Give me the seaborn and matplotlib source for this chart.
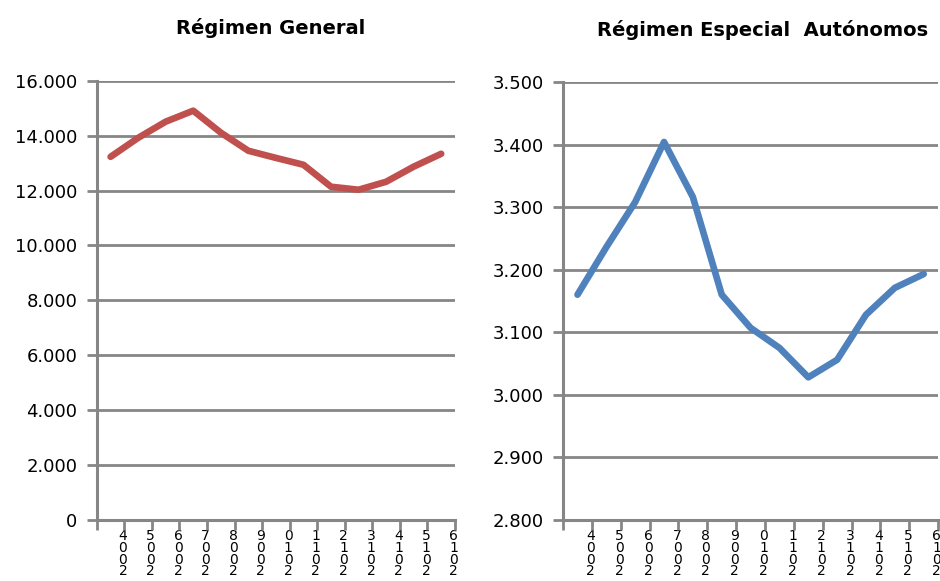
import numpy as np
import pandas as pd
import matplotlib.pyplot as plt
import seaborn as sns
from matplotlib.ticker import FuncFormatter, FixedLocator

years = list(range(2004, 2017))
general = [13230, 13920, 14510, 14910, 14110, 13450, 13190, 12940, 12140, 12030, 12320, 12870, 13340]
autonomos = [3160, 3236, 3308, 3404, 3316, 3160, 3107, 3075, 3028, 3056, 3128, 3171, 3193]
titles = ['Régimen General', 'Régimen Especial  Autónomos']

df = pd.DataFrame({'pos': np.arange(len(years)), 'year': years,
                   'general': general, 'autonomos': autonomos})

sns.set_style('white')
plt.rcParams['font.family'] = ['DejaVu Sans']
plt.rcParams['text.color'] = 'black'
plt.rcParams['xtick.labelcolor'] = 'black'
plt.rcParams['ytick.labelcolor'] = 'black'

fig = plt.figure(figsize=(9.4, 5.81), dpi=100)
ax1 = fig.add_axes([0.103, 0.105, 0.381, 0.756])
ax2 = fig.add_axes([0.599, 0.105, 0.399, 0.754])

grey = '#868686'


def thousands(v, p):
    return f'{v:,.0f}'.replace(',', '.')


def style(ax, col, color, ylim, ystep):
    sns.lineplot(data=df, x='pos', y=col, color=color, linewidth=4.8, ax=ax)
    ax.set_xlim(-0.5, len(years) - 0.5)
    ax.set_ylim(*ylim)
    ax.set_yticks(np.arange(ylim[0], ylim[1] + 1, ystep))
    ax.yaxis.set_major_formatter(FuncFormatter(thousands))
    ax.grid(axis='y', color=grey, linewidth=2)
    ax.set_axisbelow(True)
    for s in ['top', 'right']:
        ax.spines[s].set_visible(False)
    for s in ['left', 'bottom']:
        ax.spines[s].set_color(grey)
        ax.spines[s].set_linewidth(2.2)
    ax.tick_params(axis='y', left=True, length=7, width=2, color=grey,
                   labelsize=13, pad=7, labelcolor='black')
    # year labels stacked vertically, last digit on top
    ax.set_xticks(np.arange(len(years)) + 0.45)
    ax.set_xticklabels(['\n'.join(str(y)[::-1]) for y in years],
                       fontsize=10, linespacing=0.8, color='black')
    ax.tick_params(axis='x', bottom=False, pad=3)
    ax.xaxis.set_minor_locator(FixedLocator(np.arange(-0.5, len(years), 1)))
    ax.tick_params(axis='x', which='minor', bottom=True, length=7, width=2, color=grey)
    ax.set_xlabel('')
    ax.set_ylabel('')


style(ax1, 'general', '#C0504D', (0, 16000), 2000)
style(ax2, 'autonomos', '#4F81BD', (2800, 3500), 100)

fig.text(271 / 940, 1 - 28 / 581, titles[0], ha='center', va='center',
         fontsize=14, fontweight='bold', color='black')
fig.text(763 / 940, 1 - 30 / 581, titles[1], ha='center', va='center',
         fontsize=14, fontweight='bold', color='black')

fig.savefig('out.png', dpi=100)
